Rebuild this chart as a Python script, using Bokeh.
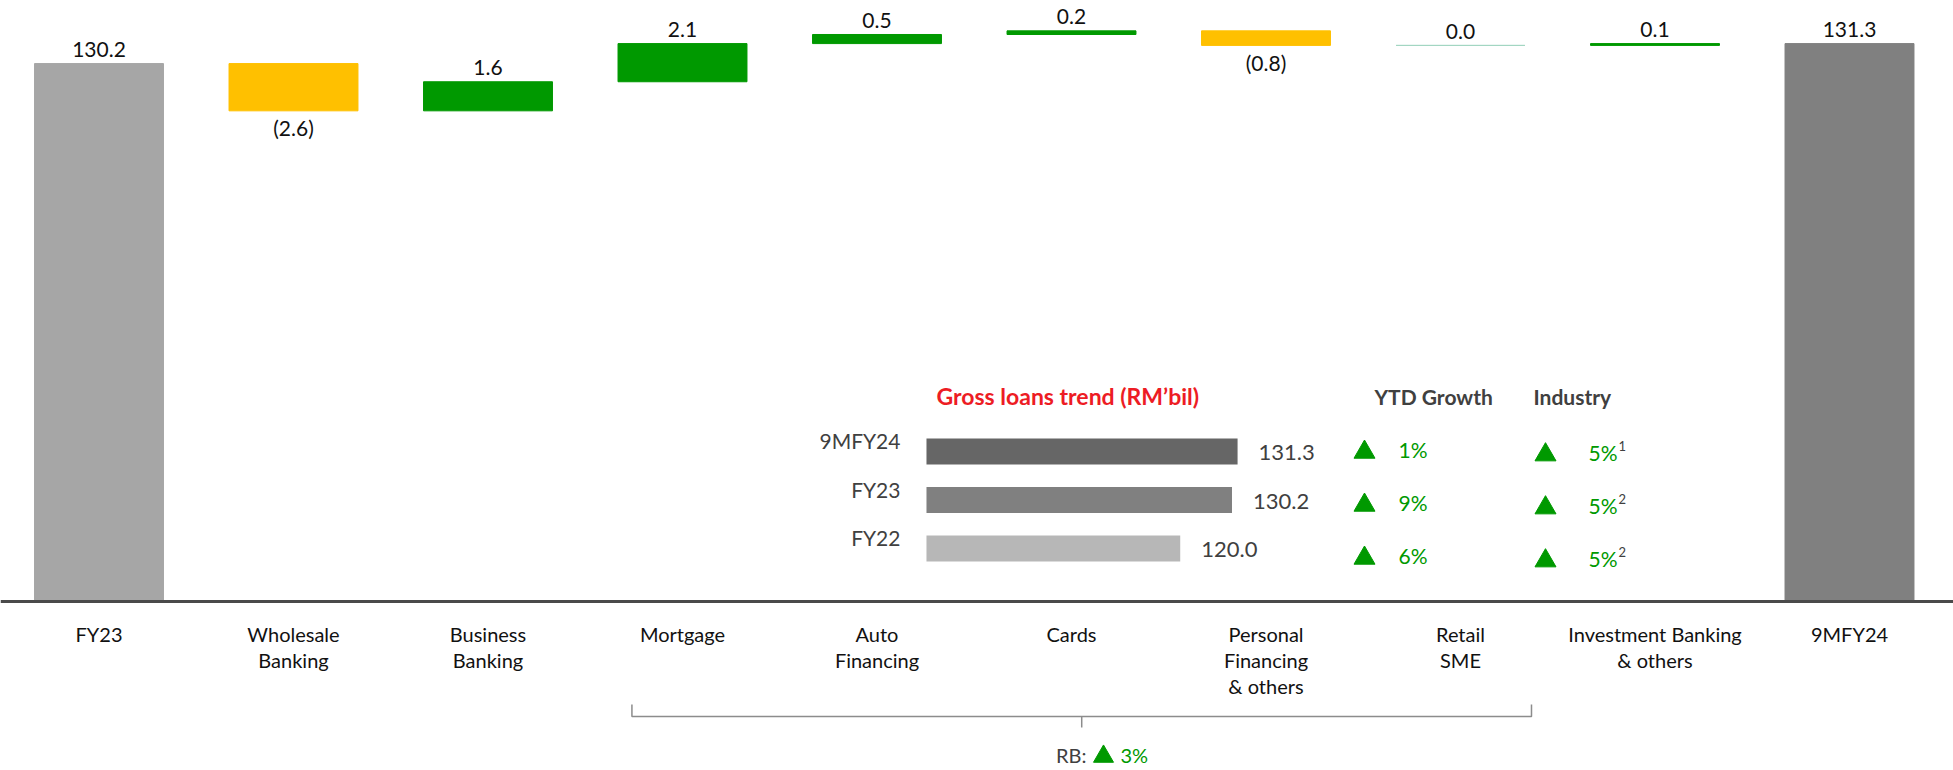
from bokeh.plotting import figure
from bokeh.models import Range1d, Span, ColumnDataSource
from bokeh.core.properties import value
from bokeh.embed import file_html
from bokeh.resources import INLINE

# ---------------- data ----------------
categories = ["FY23", "Wholesale\nBanking", "Business\nBanking", "Mortgage",
              "Auto\nFinancing", "Cards", "Personal\nFinancing\n& others",
              "Retail\nSME", "Investment Banking\n& others", "9MFY24"]
opening_total = 130.2
changes = [-2.6, 1.6, 2.1, 0.5, 0.2, -0.8, 0.0, 0.1]
closing_total = 131.3

trend_periods = ["9MFY24", "FY23", "FY22"]
trend_values = [131.3, 130.2, 120.0]
ytd_growth = ["1%", "9%", "6%"]
industry_growth = ["5%", "5%", "5%"]
industry_notes = ["1", "2", "2"]
rb_label = "RB:"
rb_growth = "3%"
retail_group = (3, 7)  # Mortgage .. Retail SME

# ---------------- style ----------------
FONT = value("Lato")
GREEN = "#009900"
YELLOW = "#ffc000"
ZERO_C = "#a3d6c2"
DARK = "#404040"
AXIS_FLOOR = 100.61
W, H = 1953, 770

p = figure(width=W, height=H, output_backend="svg", toolbar_location=None,
           x_range=Range1d(-0.5064, 9.5347), y_range=Range1d(91.31, 133.67),
           min_border=0, min_border_left=0, min_border_right=0,
           min_border_top=0, min_border_bottom=0,
           x_axis_location=None, y_axis_location=None)
p.grid.visible = False
p.outline_line_color = None
p.background_fill_color = "white"

# helper ranges (pixel coordinates, inset scales)
p.extra_x_ranges = {"px_x": Range1d(0, W),
                    "inset_x": Range1d(-112.46, 272.37)}
p.extra_y_ranges = {"px_y": Range1d(H, 0),
                    "inset_y": Range1d(6.577, -9.299),
                    "table_y": Range1d(6.057, -8.472)}

# ---------------- waterfall ----------------
xs, bottoms, tops, colors, labels, label_y, label_off = [], [], [], [], [], [], []
xs.append(0); bottoms.append(AXIS_FLOOR); tops.append(opening_total)
colors.append("#a6a6a6"); labels.append(f"{opening_total:.1f}")
label_y.append(opening_total); label_off.append(-14)
running = opening_total
for i, c in enumerate(changes, start=1):
    new = running + c
    xs.append(i)
    bottoms.append(min(running, new)); tops.append(max(running, new))
    if c > 0:
        colors.append(GREEN)
    elif c < 0:
        colors.append(YELLOW)
    else:
        colors.append(ZERO_C)
    if c >= 0:
        labels.append(f"{c:.1f}"); label_y.append(max(running, new)); label_off.append(-14)
    else:
        labels.append(f"({-c:.1f})"); label_y.append(min(running, new)); label_off.append(17)
    running = new
xs.append(len(categories) - 1); bottoms.append(AXIS_FLOOR); tops.append(closing_total)
colors.append("#808080"); labels.append(f"{closing_total:.1f}")
label_y.append(closing_total); label_off.append(-14)

src = ColumnDataSource(dict(x=xs, bottom=bottoms, top=tops, color=colors,
                            label=labels, ly=label_y, loff=label_off))
p.vbar(x="x", bottom="bottom", top="top", width=0.663, source=src,
       fill_color="color", line_color="color", line_width=1)
p.text(x="x", y="ly", text="label", y_offset="loff", source=src,
       text_font=FONT, text_font_size="21px", text_color="#111111",
       text_align="center", text_baseline="middle")

p.add_layout(Span(location=AXIS_FLOOR, dimension="width",
                  line_color="#4a4a4a", line_width=3))

# category labels (split into lines)
cx, cy, ct = [], [], []
for i, cat in enumerate(categories):
    for j, line in enumerate(cat.split("\n")):
        cx.append(i); cy.append(633 + 26 * j); ct.append(line)
p.text(x=cx, y=cy, text=ct, y_range_name="px_y",
       text_font=FONT, text_font_size="20px", text_color="#111111",
       text_align="center", text_baseline="middle")

# bracket for retail banking group
L = retail_group[0] - 0.26
R = retail_group[1] + 0.365
M = (L + R) / 2
p.multi_line(xs=[[L, L, R, R], [M, M]], ys=[[704, 716, 716, 704], [716, 727]],
             y_range_name="px_y", line_color="#8c8c8c", line_width=1.5)
p.text(x=[1086], y=[754], text=[rb_label], x_range_name="px_x", y_range_name="px_y",
       text_font=FONT, text_font_size="20px", text_color=DARK,
       text_align="right", text_baseline="middle")
p.scatter(x=[1103], y=[756], marker="triangle", size=20, x_range_name="px_x",
          y_range_name="px_y", fill_color=GREEN, line_color=GREEN)
p.text(x=[1120], y=[754], text=[rb_growth], x_range_name="px_x", y_range_name="px_y",
       text_font=FONT, text_font_size="20px", text_color=GREEN,
       text_align="left", text_baseline="middle")

# ---------------- inset: gross loans trend ----------------
INSET_MIN = 70
rows = list(range(len(trend_periods)))
inset_colors = ["#666666", "#808080", "#b7b7b7"]
p.hbar(y=rows, left=INSET_MIN, right=trend_values, height=0.536,
       x_range_name="inset_x", y_range_name="inset_y",
       fill_color=inset_colors, line_color=None)
p.text(x=[INSET_MIN] * 3, y=rows, text=trend_periods, x_offset=-26, y_offset=-11,
       x_range_name="inset_x", y_range_name="inset_y",
       text_font=FONT, text_font_size="21px", text_color=DARK,
       text_align="right", text_baseline="middle")
p.text(x=trend_values, y=rows, text=[f"{v:.1f}" for v in trend_values],
       x_offset=21, y_offset=1,
       x_range_name="inset_x", y_range_name="inset_y",
       text_font=FONT, text_font_size="22px", text_color=DARK,
       text_align="left", text_baseline="middle")

# headers
p.text(x=[936], y=[-1], text=["Gross loans trend (RM\u2019bil)"],
       x_range_name="px_x", y_range_name="table_y",
       text_font=FONT, text_font_size="23px", text_font_style="bold",
       text_color="#ed1c24", text_align="left", text_baseline="middle")
p.text(x=[1374, 1533], y=[-1, -1], text=["YTD Growth", "Industry"],
       x_range_name="px_x", y_range_name="table_y",
       text_font=FONT, text_font_size="21px", text_font_style="bold",
       text_color=DARK, text_align="left", text_baseline="middle")

# growth table
tri_ytd = [r + 0.05 for r in rows]
tri_ind = [r + 0.1 for r in rows]
p.scatter(x=[1364] * 3, y=tri_ytd, marker="triangle", size=21,
          x_range_name="px_x", y_range_name="table_y",
          fill_color=GREEN, line_color=GREEN)
p.scatter(x=[1545] * 3, y=tri_ind, marker="triangle", size=21,
          x_range_name="px_x", y_range_name="table_y",
          fill_color=GREEN, line_color=GREEN)
p.text(x=[1398] * 3, y=rows, text=ytd_growth,
       x_range_name="px_x", y_range_name="table_y",
       text_font=FONT, text_font_size="21px", text_color=GREEN,
       text_align="left", text_baseline="middle")
p.text(x=[1588] * 3, y=rows, text=industry_growth, y_offset=3,
       x_range_name="px_x", y_range_name="table_y",
       text_font=FONT, text_font_size="21px", text_color=GREEN,
       text_align="left", text_baseline="middle")
p.text(x=[1618] * 3, y=rows, text=industry_notes, y_offset=-3,
       x_range_name="px_x", y_range_name="table_y",
       text_font=FONT, text_font_size="13px", text_color=DARK,
       text_align="left", text_baseline="middle")

open("out.html", "w").write(file_html(p, INLINE))
